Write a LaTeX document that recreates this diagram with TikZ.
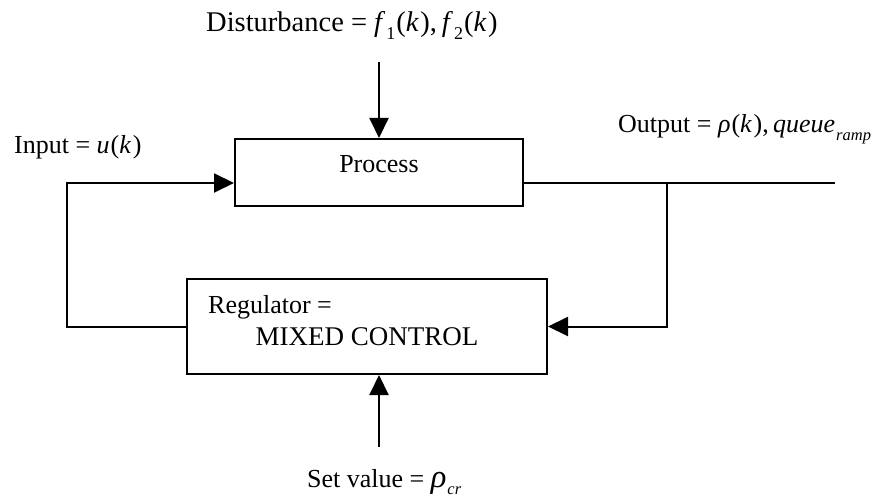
\documentclass[tikz,border=0pt]{standalone}
\usepackage{fontspec}
\setmainfont{Liberation Serif}
\usetikzlibrary{arrows.meta,calc}
\newcommand\mysubit[1]{\raisebox{-0.28em}{\fontsize{16.5}{16.5}\selectfont\itshape #1}}
\newcommand\mysubup[1]{\raisebox{-0.25em}{\fontsize{18}{18}\selectfont #1}}
\tikzset{
  blk/.style={draw,line width=2pt,inner sep=0pt},
  lbl/.style={anchor=base west,inner sep=0pt,font=\fontsize{26}{30}\selectfont},
  conn/.style={line width=2pt},
  arr/.style={conn,-{Triangle[length=20pt,width=19pt]}},
}
\begin{document}
\begin{tikzpicture}[x=1pt,y=-1pt]
\useasboundingbox (0,0) rectangle (888,502);
% blocks
\node[blk,minimum width=288pt,minimum height=67pt] (proc) at (379,172.5) {};
\node[lbl,anchor=base] (proctxt) at (379,173) {Process};
\node[blk,minimum width=360pt,minimum height=95pt] (reg) at (367,326.5) {};
\node[lbl] (regtxt1) at (208,313) {Regulator =};
\node[lbl,anchor=base,font=\fontsize{27}{30}\selectfont] (regtxt2) at (367,345) {MIXED CONTROL};
% labels
\node[lbl,font=\fontsize{28.5}{32}\selectfont] (dist) at (206,32) {Disturbance = \textit{f}\kern1pt\mysubup{1}\kern1pt(\textit{k}\kern1.5pt),\,\textit{f}\kern1pt\mysubup{2}\kern1pt(\textit{k}\kern1.5pt)};
\node[lbl] (inp) at (14,154) {Input = \textit{u}\kern1pt(\textit{k}\kern1.5pt)};
\node[lbl] (outp) at (618,133) {Output = \textit{ρ}\kern1pt(\textit{k}\kern1.5pt),\,\textit{queue}\kern1pt\mysubit{ramp}};
\node[lbl] (setv) at (307,487) {Set value = \scalebox{1.25}{\textit{ρ}}\kern1pt\mysubit{cr}};
% coordinates
\coordinate (d0) at (379,62);
\coordinate (s0) at (379,447);
\coordinate (pin) at ($(proc.west)+(0,10.5)$);
\coordinate (pout) at ($(proc.east)+(0,10.5)$);
\coordinate (out) at (835,183);
\coordinate (br) at (667,183);
\coordinate (lft) at (67,326.5);
% connectors
\draw[arr] (d0) -- (proc.north);
\draw[arr] (s0) -- (s0 |- reg.south);
\draw[conn] (pout) -- (out);
\draw[arr] (br) |- (reg.east);
\draw[arr] (reg.west) -- (lft) |- (pin);
\end{tikzpicture}
\end{document}
